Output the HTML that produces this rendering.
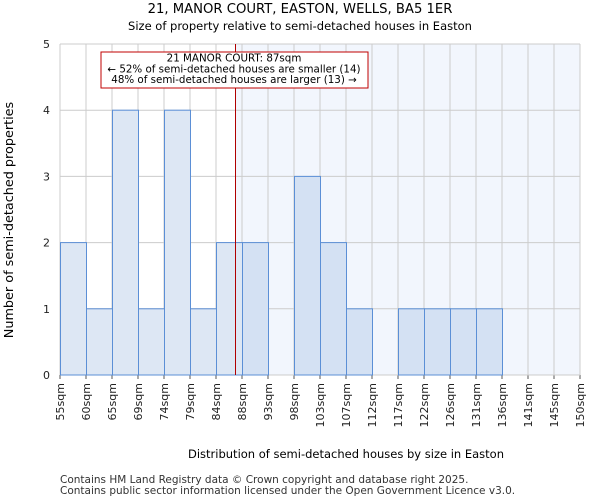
<!DOCTYPE html>
<html><head><meta charset="utf-8"><style>
body{margin:0;background:#fff;font-family:"DejaVu Sans","Liberation Sans",sans-serif;}
</style></head><body>
<svg width="600" height="500" xmlns="http://www.w3.org/2000/svg" font-family="DejaVu Sans, Liberation Sans, sans-serif">
<text x="300" y="13" text-anchor="middle" font-size="13.2">21, MANOR COURT, EASTON, WELLS, BA5 1ER</text>
<text x="300" y="30" text-anchor="middle" font-size="11.5">Size of property relative to semi-detached houses in Easton</text>
<g id="plot"></g>
<text x="346" y="458" text-anchor="middle" font-size="11.5">Distribution of semi-detached houses by size in Easton</text>
<text transform="translate(13,220) rotate(-90)" text-anchor="middle" font-size="12.8">Number of semi-detached properties</text>
<text x="60" y="483" font-size="10.5" fill="#333">Contains HM Land Registry data © Crown copyright and database right 2025.</text>
<text x="60" y="494" font-size="10.5" fill="#333">Contains public sector information licensed under the Open Government Licence v3.0.</text>
</svg>
<script>
const tickLabels=["55sqm","60sqm","65sqm","69sqm","74sqm","79sqm","84sqm","88sqm","93sqm","98sqm","103sqm","107sqm","112sqm","117sqm","122sqm","126sqm","131sqm","136sqm","141sqm","145sqm","150sqm"];
const counts=[2,1,4,1,4,1,2,2,0,3,2,1,0,1,1,1,1,0,0,0];
const yTicks=[0,1,2,3,4,5];
const markerBin=6.75;
const NS="http://www.w3.org/2000/svg";
const g=document.getElementById('plot');
const X0=60,X1=580,Y0=375,Y1=44;
const x=i=>X0+i*(X1-X0)/counts.length;
const y=v=>Y0-v*(Y0-Y1)/5;
function mk(t,a){const e=document.createElementNS(NS,t);for(const k in a)e.setAttribute(k,a[k]);g.appendChild(e);return e;}
const mx=x(markerBin);
let e=mk('rect',{x:mx,y:Y1,width:X1-mx,height:Y0-Y1,fill:'#f2f6fd'});


for(let i=0;i<tickLabels.length;i++){
 e=mk('line',{x1:x(i),x2:x(i),y1:Y1,y2:Y0,stroke:'#ccc','stroke-width':1});
 
 
 e=mk('line',{x1:x(i),x2:x(i),y1:Y0,y2:Y0+4,stroke:'#555'});
 
 
 e=mk('text',{transform:`translate(${x(i)+4},${Y0+8}) rotate(-90)`,'text-anchor':'end','font-size':11,fill:'#222'});
 e.textContent=tickLabels[i];
 
 
}
yTicks.forEach(v=>{
 e=mk('line',{x1:X0,x2:X1,y1:y(v),y2:y(v),stroke:'#ccc'});
 
 
 e=mk('text',{x:X0-10,y:y(v)+4,'text-anchor':'end','font-size':11,fill:'#222'});
 e.textContent=v;
 
 
});
counts.forEach((c,i)=>{
 if(!c)return;
 const right=i>=Math.floor(markerBin)+1;
 e=mk('rect',{x:x(i)+0.5,y:y(c),width:x(i+1)-x(i),height:Y0-y(c),fill:right?'#d4e1f3':'#dde7f4',stroke:'#5b8fd6','stroke-width':1});
 
 
});
e=mk('line',{x1:mx,x2:mx,y1:Y1,y2:Y0,stroke:'#b00000','stroke-width':1});


e=mk('rect',{x:101,y:52,width:267,height:36,fill:'#fff',stroke:'#c00000'});


const ann=["21 MANOR COURT: 87sqm","← 52% of semi-detached houses are smaller (14)","48% of semi-detached houses are larger (13) →"];
ann.forEach((t,k)=>{
 e=mk('text',{x:234,y:61.5+k*10.8,'text-anchor':'middle','font-size':10.3});
 e.textContent=t;
 
 
});
</script>
</body></html>
